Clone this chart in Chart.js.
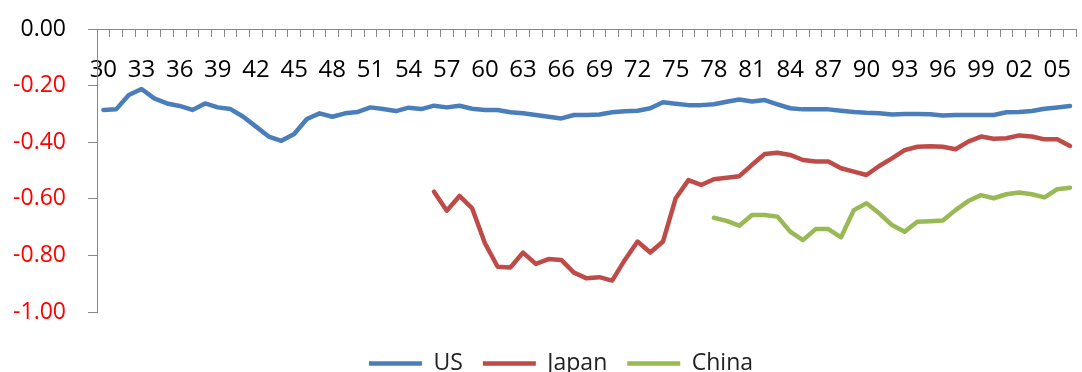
<!DOCTYPE html>
<html>
<head>
<meta charset="utf-8">
<script src="https://cdn.jsdelivr.net/npm/chart.js@4.4.1/dist/chart.umd.min.js"></script>
<style>
  html, body { margin: 0; padding: 0; background: #fff; overflow: hidden; }
  #wrap { width: 1090px; height: 384px; }
</style>
</head>
<body>
<div id="wrap"><canvas id="lineChart" width="1090" height="384"></canvas></div>
<script>
// years on the category axis, a label shown every 3rd year
var years = [];
for (var y = 1930; y <= 2006; y++) { years.push(y); }
var labelEvery = 3;

var usData = [
  -0.286, -0.284, -0.233, -0.212, -0.245, -0.263, -0.272, -0.286, -0.263, -0.277,
  -0.283, -0.310, -0.345, -0.380, -0.395, -0.371, -0.318, -0.298, -0.310, -0.298,
  -0.293, -0.277, -0.283, -0.290, -0.278, -0.283, -0.271, -0.277, -0.271, -0.282,
  -0.286, -0.286, -0.294, -0.298, -0.304, -0.310, -0.316, -0.304, -0.304, -0.302,
  -0.294, -0.291, -0.289, -0.280, -0.259, -0.264, -0.269, -0.269, -0.266, -0.257,
  -0.249, -0.256, -0.251, -0.266, -0.280, -0.284, -0.284, -0.284, -0.289, -0.293,
  -0.296, -0.298, -0.302, -0.300, -0.300, -0.301, -0.306, -0.304, -0.304, -0.304,
  -0.304, -0.294, -0.293, -0.290, -0.282, -0.277, -0.272
];

// Japan starts in 1956
var japanData = [
  null, null, null, null, null, null, null, null, null, null,
  null, null, null, null, null, null, null, null, null, null,
  null, null, null, null, null, null,
  -0.575, -0.642, -0.590, -0.634, -0.757, -0.840, -0.843, -0.790, -0.830, -0.813,
  -0.816, -0.861, -0.881, -0.877, -0.889, -0.816, -0.751, -0.790, -0.751, -0.598,
  -0.534, -0.551, -0.531, -0.526, -0.520, -0.480, -0.442, -0.437, -0.445, -0.463,
  -0.468, -0.468, -0.492, -0.504, -0.516, -0.484, -0.457, -0.428, -0.416, -0.414,
  -0.416, -0.425, -0.398, -0.380, -0.388, -0.386, -0.376, -0.380, -0.390, -0.390, -0.413
];

// China starts in 1978
var chinaData = [
  null, null, null, null, null, null, null, null, null, null,
  null, null, null, null, null, null, null, null, null, null,
  null, null, null, null, null, null, null, null, null, null,
  null, null, null, null, null, null, null, null, null, null,
  null, null, null, null, null, null, null, null,
  -0.667, -0.678, -0.695, -0.657, -0.657, -0.663, -0.716, -0.746, -0.707, -0.707,
  -0.736, -0.640, -0.616, -0.651, -0.693, -0.716, -0.681, -0.679, -0.677, -0.640,
  -0.608, -0.587, -0.598, -0.584, -0.578, -0.584, -0.595, -0.566, -0.561
];

var yMin = -1, yMax = 0, yStep = 0.2;

var FONT = "'Open Sans', 'DejaVu Sans', sans-serif";

function line(label, data, color) {
  return {
    label: label,
    data: data,
    borderColor: color,
    backgroundColor: color,
    borderWidth: 4.5,
    borderJoinStyle: 'round',
    borderCapStyle: 'round',
    pointRadius: 0,
    pointHoverRadius: 0,
    tension: 0,
    fill: false,
    spanGaps: false
  };
}

// legend sits a bit right of centre and lower down in the original
var legendShift = {
  id: 'legendShift',
  afterLayout: function (chart) {
    if (chart.legend) {
      chart.legend.left += 16;
      chart.legend.right += 16;
      chart.legend.top += 20;
      chart.legend.bottom += 20;
    }
  }
};

var lineDiv = document.getElementById("lineChart");
var newChart = new Chart(lineDiv, {
  type: "line",
  data: {
    labels: years,
    datasets: [
      line('US', usData, '#4A7EBB'),
      line('Japan', japanData, '#BE4B48'),
      line('China', chinaData, '#98B954')
    ]
  },
  plugins: [legendShift],
  options: {
    responsive: false,
    animation: false,
    layout: { padding: { top: 29, left: 0, right: 0, bottom: 0 } },
    plugins: {
      tooltip: { enabled: false },
      legend: {
        display: true,
        position: 'bottom',
        labels: {
          usePointStyle: true,
          pointStyle: 'line',
          pointStyleWidth: 53,
          boxHeight: 23,
          padding: 20,
          color: '#222',
          font: { family: FONT, size: 23 }
        }
      }
    },
    scales: {
      x: {
        type: 'category',
        position: { y: 0 },
        offset: true,
        grid: {
          display: true,
          drawOnChartArea: false,
          drawTicks: true,
          tickLength: 7,
          color: '#888',
          offset: true
        },
        border: { display: true, color: '#888', width: 1 },
        ticks: {
          autoSkip: false,
          maxRotation: 0,
          minRotation: 0,
          padding: 20,
          color: '#000',
          font: { family: FONT, size: 24 },
          callback: function (value, index) {
            var yr = years[index];
            return (yr - years[0]) % labelEvery === 0 ? String(yr).slice(2) : '';
          }
        }
      },
      y: {
        min: yMin,
        max: yMax,
        grid: {
          display: true,
          drawOnChartArea: false,
          drawTicks: true,
          tickLength: 9,
          color: '#888'
        },
        border: { display: true, color: '#888', width: 1 },
        ticks: {
          stepSize: yStep,
          padding: 22,
          font: { family: FONT, size: 23 },
          color: function (ctx) {
            return ctx.tick && Math.abs(ctx.tick.value) < 1e-9 ? '#000' : '#FF0000';
          },
          callback: function (value) {
            return Number(value).toFixed(2);
          }
        },
        afterFit: function (scale) {
          // keep the plot between the top axis and the legend gap
          scale.width = 97;
          scale.paddingTop = 0;
          scale.paddingBottom = 72;
        }
      }
    }
  }
});
</script>
</body>
</html>
